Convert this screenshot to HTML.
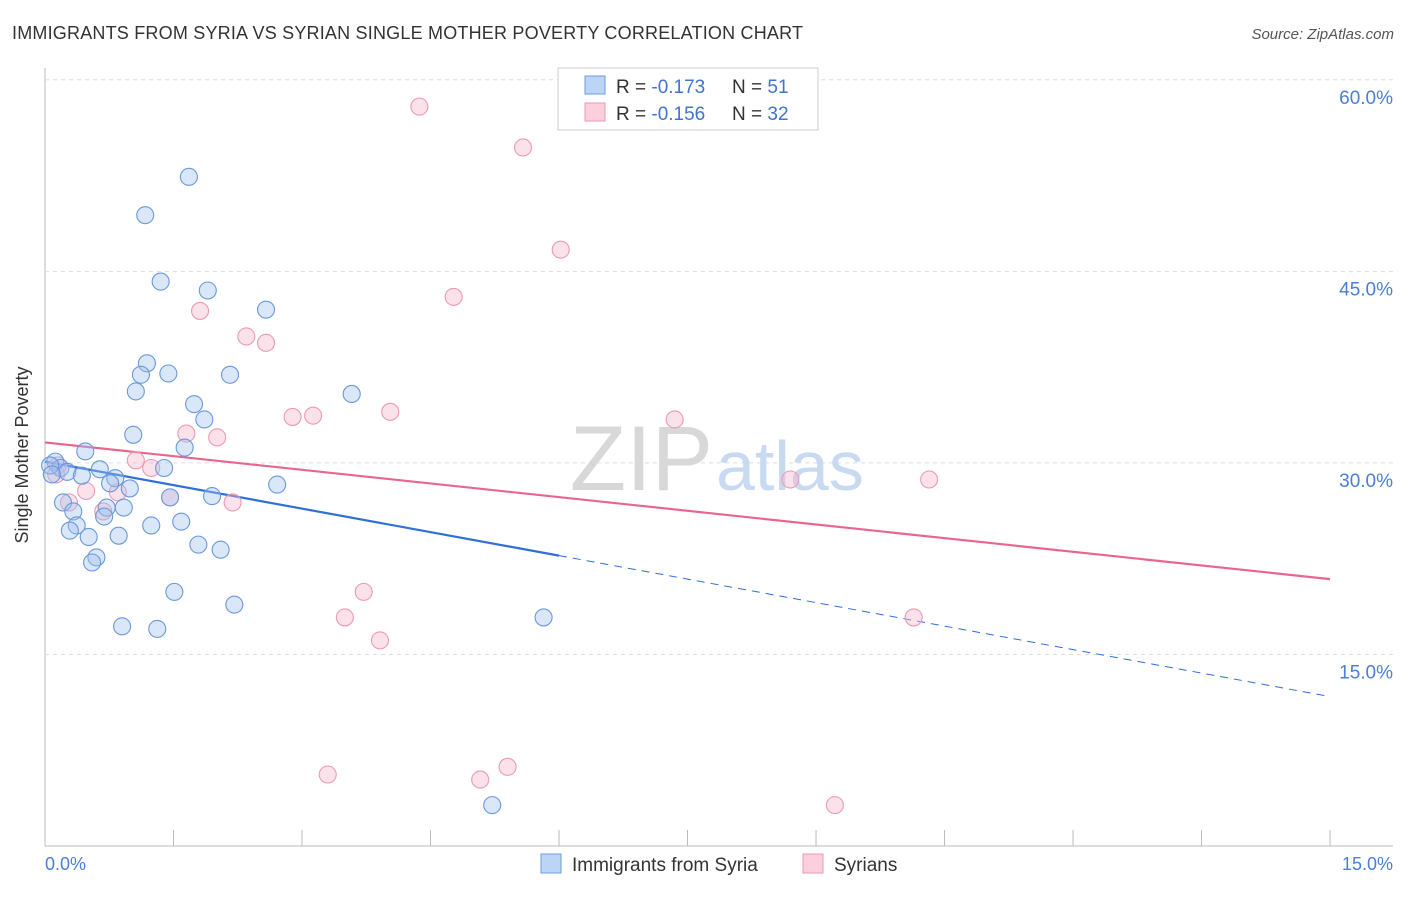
<!DOCTYPE html>
<html><head><meta charset="utf-8"><style>
body{margin:0;background:#fff;font-family:"Liberation Sans",sans-serif;}
svg text{font-family:"Liberation Sans",sans-serif;}
</style></head><body>
<svg width="1406" height="892" xmlns="http://www.w3.org/2000/svg">
<text x="12" y="39" font-size="18" fill="#333" textLength="791">IMMIGRANTS FROM SYRIA VS SYRIAN SINGLE MOTHER POVERTY CORRELATION CHART</text>
<text x="1394" y="39" font-size="15" fill="#555" font-style="italic" text-anchor="end">Source: ZipAtlas.com</text>
<g id="grid"></g>
<text x="713" y="490" font-size="92" fill="#d8d8d8" text-anchor="end" font-family="Liberation Serif">ZIP</text>
<text x="716" y="490" font-size="70" fill="#c8daf2">atlas</text>
<g id="lines"></g>
<g id="pts"></g>
<text x="28" y="455" font-size="18" fill="#333" text-anchor="middle" transform="rotate(-90 28 455)">Single Mother Poverty</text>
<text x="45" y="870" font-size="18" fill="#4a7fd6">0.0%</text>
<text x="1393" y="870" font-size="18" fill="#4a7fd6" text-anchor="end">15.0%</text>
<g>
<rect x="558" y="68" width="260" height="62" fill="#fff" stroke="#ccc"/>
<rect x="585" y="76" width="20" height="18" fill="#bcd4f5" stroke="#6c9be0"/>
<rect x="585" y="103" width="20" height="18" fill="#fbcfdc" stroke="#ee9ab4"/>
<text x="616" y="93" font-size="19" fill="#333">R = <tspan fill="#3f74d0">-0.173</tspan><tspan x="732">N = </tspan><tspan fill="#3f74d0">51</tspan></text>
<text x="616" y="120" font-size="19" fill="#333">R = <tspan fill="#3f74d0">-0.156</tspan><tspan x="732">N = </tspan><tspan fill="#3f74d0">32</tspan></text>
</g>
<g>
<rect x="541" y="854" width="20" height="19" fill="#bcd4f5" stroke="#6c9be0"/>
<text x="572" y="871" font-size="19" fill="#333">Immigrants from Syria</text>
<rect x="803" y="854" width="20" height="19" fill="#fbcfdc" stroke="#ee9ab4"/>
<text x="834" y="871" font-size="19" fill="#333">Syrians</text>
</g>
</svg>
<script>
const yTicks=[15,30,45,60];
const yTickLabels=["15.0%","30.0%","45.0%","60.0%"];
const xTicks=[1.5,3,4.5,6,7.5,9,10.5,12,13.5,15];
const blueX=[1.68,1.17,1.35,1.90,2.58,1.19,1.12,1.44,2.16,1.06,3.58,1.74,1.86,1.03,1.63,0.47,0.12,0.18,0.26,0.64,0.43,1.39,0.82,0.76,0.99,2.71,1.46,1.95,0.21,0.33,0.72,0.92,0.69,0.37,1.24,1.59,0.29,0.51,0.86,1.79,2.05,0.60,0.55,1.51,2.21,0.90,1.31,5.82,5.22,0.06,0.08];
const blueY=[52.4,49.4,44.2,43.5,42.0,37.8,36.9,37.0,36.9,35.6,35.4,34.6,33.4,32.2,31.2,30.9,30.1,29.6,29.3,29.5,29.0,29.6,28.8,28.4,28.0,28.3,27.3,27.4,26.9,26.2,26.5,26.5,25.8,25.1,25.1,25.4,24.7,24.2,24.3,23.6,23.2,22.6,22.2,19.9,18.9,17.2,17.0,17.9,3.2,29.8,29.1];
const pinkX=[4.37,5.58,6.02,4.77,1.81,2.35,2.58,2.89,3.13,4.03,7.35,1.65,2.01,1.06,1.24,0.15,0.13,0.48,0.85,1.46,2.19,0.28,0.68,8.70,10.32,3.72,3.50,3.91,10.14,3.30,5.40,5.08,9.22];
const pinkY=[57.9,54.7,46.7,43.0,41.9,39.9,39.4,33.6,33.7,34.0,33.4,32.3,32.0,30.2,29.6,29.8,29.1,27.8,27.7,27.3,26.9,26.9,26.2,28.7,28.7,19.9,17.9,16.1,17.9,5.6,6.2,5.2,3.2];
const blueTrend=[30.1,11.7];
const pinkTrend=[31.6,20.9];
const blueSolidEnd=6.0;
const X=v=>45+v*85.67, Y=v=>846-v*12.77;
const NS="http://www.w3.org/2000/svg";
function mk(t,a,p){const e=document.createElementNS(NS,t);for(const k in a)e.setAttribute(k,a[k]);p.appendChild(e);return e;}
const g=document.getElementById('grid');
let ax=mk('line',{x1:45,y1:68,x2:45,y2:846,stroke:'#bbb'},g);


let bx=mk('line',{x1:45,y1:846,x2:1393,y2:846,stroke:'#bbb'},g);


yTicks.forEach((t,i)=>{
 const l=mk('line',{x1:45,y1:Y(t),x2:1393,y2:Y(t),stroke:'#ddd','stroke-dasharray':'4 4'},g);
 
 
 const tx=mk('text',{x:1393,y:Y(t)+24,'font-size':19,fill:'#4a7fd6','text-anchor':'end'},g);
 tx.textContent=yTickLabels[i];
 
 
});
xTicks.forEach(t=>{
 const l=mk('line',{x1:X(t),y1:830,x2:X(t),y2:846,stroke:'#bbb'},g);
 
 
});
const p=document.getElementById('pts');
function pts(xs,ys,fill,stroke,name){xs.forEach((x,i)=>{
 const c=mk('circle',{cx:X(x),cy:Y(ys[i]),r:8.5,fill:fill,stroke:stroke,'stroke-width':1.1},p);
 
 
});}
pts(pinkX,pinkY,'rgba(246,180,200,0.4)','#ec9ab4','syrians-point');
pts(blueX,blueY,'rgba(160,196,240,0.4)','#6a98dc','syria-point');
const L=document.getElementById('lines');
const by=x=>blueTrend[0]+(blueTrend[1]-blueTrend[0])*x/15;
let l1=mk('line',{x1:X(0),y1:Y(by(0)),x2:X(blueSolidEnd),y2:Y(by(blueSolidEnd)),stroke:'#2f6fd6','stroke-width':2.2},L);


let l2=mk('line',{x1:X(blueSolidEnd),y1:Y(by(blueSolidEnd)),x2:X(15),y2:Y(by(15)),stroke:'#2f6fd6','stroke-width':1,'stroke-dasharray':'8 6'},L);


let l3=mk('line',{x1:X(0),y1:Y(pinkTrend[0]),x2:X(15),y2:Y(pinkTrend[1]),stroke:'#e8668e','stroke-width':2.2},L);


</script>
</body></html>
